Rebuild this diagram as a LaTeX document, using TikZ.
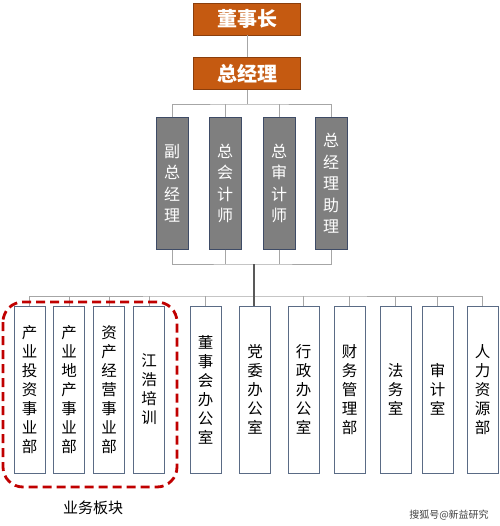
\documentclass[tikz,border=0pt]{standalone}
\usepackage{fontspec}
\setmainfont{Noto Sans CJK SC}
\newfontfamily\cjkbold{Noto Sans CJK SC Bold}
\definecolor{topor}{HTML}{C55A11}
\definecolor{topedge}{HTML}{8A3E0C}
\definecolor{midgray}{HTML}{7F7F7F}
\definecolor{midedge}{HTML}{3E4B66}
\definecolor{lowedge}{HTML}{5A6B85}
\definecolor{conngray}{HTML}{A6A6A6}
\definecolor{darkconn}{HTML}{595959}
\definecolor{dashred}{HTML}{C00000}
\begin{document}
\begin{tikzpicture}[x=1pt,y=-1pt,
  topbox/.style={fill=topor,draw=topedge,line width=0.8pt,text=white,minimum width=107pt,minimum height=32pt,inner sep=0pt,font=\fontsize{20}{22}\selectfont\bfseries},
  midbox/.style={fill=midgray,draw=midedge,line width=1pt,text=white,minimum width=32pt,minimum height=131pt,inner sep=0pt,align=center,font=\fontsize{16}{21.5}\selectfont},
  lowbox/.style={fill=white,draw=lowedge,line width=1pt,minimum width=31pt,minimum height=167pt,inner sep=0pt,align=center,font=\fontsize{15.5}{19}\selectfont},
  conn/.style={draw=conngray,line width=0.9pt},
  mainconn/.style={draw=darkconn,line width=1.8pt},
  groupbox/.style={draw=dashred,line width=2.8pt,dash pattern=on 9pt off 5pt,rounded corners=20pt}
]
\useasboundingbox (0,0) rectangle (499,526);

% top
\node[topbox] (s) at (247,19) {董事长};
\node[topbox] (g) at (247,73.5) {总经理};

% middle
\node[midbox] (m1) at (172,183.5) {副\\总\\经\\理};
\node[midbox] (m2) at (225,183.5) {总\\会\\计\\师};
\node[midbox] (m3) at (279,183.5) {总\\审\\计\\师};
\node[midbox] (m4) at (331,183.5) {总\\经\\理\\助\\理};

% bottom
\node[lowbox] (p1) at (29.5,389.5) {产\\业\\投\\资\\事\\业\\部};
\node[lowbox] (p2) at (69,389.5) {产\\业\\地\\产\\事\\业\\部};
\node[lowbox] (p3) at (109,389.5) {资\\产\\经\\营\\事\\业\\部};
\node[lowbox] (p4) at (149,389.5) {江\\浩\\培\\训};
\node[lowbox] (p5) at (205.5,389.5) {董\\事\\会\\办\\公\\室};
\node[lowbox] (p6) at (255,389.5) {党\\委\\办\\公\\室};
\node[lowbox] (p7) at (303.5,389.5) {行\\政\\办\\公\\室};
\node[lowbox] (p8) at (349.5,389.5) {财\\务\\管\\理\\部};
\node[lowbox] (p9) at (395.5,389.5) {法\\务\\室};
\node[lowbox] (p10) at (437.5,389.5) {审\\计\\室};
\node[lowbox] (p11) at (482.5,389.5) {人\\力\\资\\源\\部};

% connectors top
\draw[conn] (s) -- (g);
\coordinate (ja) at (247,104);
\draw[conn] (g.south) -- (ja);
\draw[conn] (m1.north) |- (ja) -| (m4.north);
\draw[conn] (m2.north) -- (m2.north |- ja);
\draw[conn] (m3.north) -- (m3.north |- ja);

% connectors middle bottom
\coordinate (jb) at (254,264);
\draw[conn] (m1.south) |- (jb) -| (m4.south);
\draw[conn] (m2.south) -- (m2.south |- jb);
\draw[conn] (m3.south) -- (m3.south |- jb);

% bus bottom
\coordinate (jc) at (254,296);
\draw[conn] (p1.north) |- (jc) -| (p11.north);
\foreach \i in {2,3,4,5,7,8,9,10}{
  \draw[conn] (p\i.north) -- (p\i.north |- jc);
}
\draw[mainconn] (jb) -- (jb |- p6.north);

% group
\draw[groupbox] (3,302) rectangle (177,487);
\node[font=\fontsize{15}{17}\selectfont] (lbl) at (93,508) {业务板块};

% watermark
\node[font=\fontsize{10}{12}\selectfont,text=black!75] (wm) at (449,515) {搜狐号@新益研究};
\end{tikzpicture}
\end{document}
